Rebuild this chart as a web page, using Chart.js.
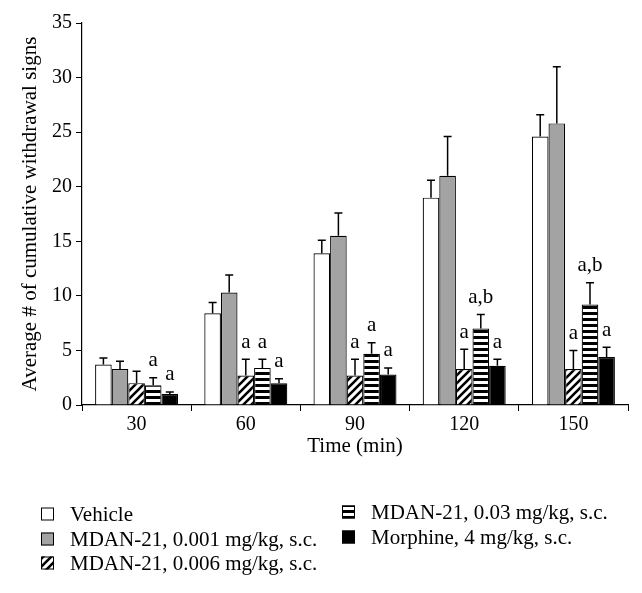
<!DOCTYPE html>
<html lang="en">
<head>
<meta charset="UTF-8">
<title>Cumulative withdrawal signs</title>
<style>
    body { margin: 0; padding: 0; background: #fff; }
    #wrap { width: 642px; height: 593px; }
</style>
</head>
<body>
<div id="wrap"><canvas id="chart" width="642" height="593"></canvas></div>
<script src="https://cdn.jsdelivr.net/npm/chart.js"></script>
<script>
// data
const times = ['30', '60', '90', '120', '150'];
const seriesNames = [
    'Vehicle',
    'MDAN-21, 0.001 mg/kg, s.c.',
    'MDAN-21, 0.006 mg/kg, s.c.',
    'MDAN-21, 0.03 mg/kg, s.c.',
    'Morphine, 4 mg/kg, s.c.'
];
const vehicle   = [3.7, 8.4, 13.9, 19.0, 24.6];
const mdan001   = [3.3, 10.3, 15.5, 21.0, 25.8];
const mdan006   = [2.0, 2.7, 2.7, 3.3, 3.3];
const mdan003   = [1.8, 3.4, 4.7, 7.0, 9.2];
const morphine  = [1.0, 2.0, 2.8, 3.6, 4.4];
const errVehicle  = [0.6, 1.0, 1.2, 1.6, 2.0];
const errMdan001  = [0.7, 1.6, 2.1, 3.6, 5.2];
const errMdan006  = [1.1, 1.5, 1.5, 1.8, 1.7];
const errMdan003  = [0.7, 0.8, 1.0, 1.3, 2.0];
const errMorphine = [0.2, 0.4, 0.6, 0.6, 0.9];
const sigVehicle  = ['', '', '', '', ''];
const sigMdan001  = ['', '', '', '', ''];
const sigMdan006  = ['', 'a', 'a', 'a', 'a'];
const sigMdan003  = ['a', 'a', 'a', 'a,b', 'a,b'];
const sigMorphine = ['a', 'a', 'a', 'a', 'a'];
const yTicks = [0, 5, 10, 15, 20, 25, 30, 35];

const serif = "'Liberation Serif', 'DejaVu Serif', serif";

function diagPattern() {
    const c = document.createElement('canvas');
    c.width = 8; c.height = 8;
    const g = c.getContext('2d');
    g.fillStyle = '#fff';
    g.fillRect(0, 0, 8, 8);
    g.strokeStyle = '#000';
    g.lineWidth = 2.6;
    g.beginPath();
    g.moveTo(-2, 10); g.lineTo(10, -2);
    g.moveTo(-2, 2); g.lineTo(2, -2);
    g.moveTo(6, 10); g.lineTo(10, 6);
    g.stroke();
    return g.createPattern(c, 'repeat');
}

function stripePattern() {
    const c = document.createElement('canvas');
    c.width = 4; c.height = 6;
    const g = c.getContext('2d');
    g.fillStyle = '#fff';
    g.fillRect(0, 0, 4, 6);
    g.fillStyle = '#000';
    g.fillRect(0, 0, 4, 3);
    return g.createPattern(c, 'repeat');
}

const fills = ['#ffffff', '#a3a3a3', diagPattern(), stripePattern(), '#000000'];
const values = [vehicle, mdan001, mdan006, mdan003, morphine];
const errors = [errVehicle, errMdan001, errMdan006, errMdan003, errMorphine];
const sigs = [sigVehicle, sigMdan001, sigMdan006, sigMdan003, sigMorphine];

const errorBars = {
    id: 'errorBars',
    afterDatasetsDraw(chart) {
        const ctx = chart.ctx;
        const y = chart.scales.y;
        ctx.save();
        ctx.strokeStyle = '#000';
        ctx.lineWidth = 1.5;
        ctx.fillStyle = '#000';
        ctx.font = '21px ' + serif;
        ctx.textAlign = 'center';
        ctx.textBaseline = 'middle';
        chart.data.datasets.forEach((ds, i) => {
            chart.getDatasetMeta(i).data.forEach((bar, j) => {
                const top = y.getPixelForValue(ds.data[j] + ds.errors[j]);
                ctx.beginPath();
                ctx.moveTo(bar.x, bar.y);
                ctx.lineTo(bar.x, top);
                ctx.moveTo(bar.x - 4, top);
                ctx.lineTo(bar.x + 4, top);
                ctx.stroke();
                if (ds.sig[j]) ctx.fillText(ds.sig[j], bar.x, top - 17);
            });
        });
        ctx.restore();
    }
};

const legendBlock = {
    id: 'legendBlock',
    afterDraw(chart) {
        const ctx = chart.ctx;
        const spots = [[41, 514], [41, 539], [41, 563], [342, 512], [342, 537]];
        ctx.save();
        ctx.font = '21px ' + serif;
        ctx.textBaseline = 'middle';
        ctx.textAlign = 'left';
        spots.forEach((p, i) => {
            ctx.fillStyle = fills[i];
            ctx.fillRect(p[0], p[1] - 6.5, 13, 13);
            ctx.strokeStyle = '#000';
            ctx.lineWidth = 1;
            ctx.strokeRect(p[0] + 0.5, p[1] - 6, 12, 12);
            ctx.fillStyle = '#000';
            ctx.fillText(seriesNames[i], p[0] + 29, p[1] + 1);
        });
        ctx.restore();
    }
};

new Chart(document.getElementById('chart'), {
    type: 'bar',
    data: {
        labels: times,
        datasets: values.map((v, i) => ({
            label: seriesNames[i],
            data: v,
            errors: errors[i],
            sig: sigs[i],
            backgroundColor: fills[i],
            borderColor: '#000',
            borderWidth: 1.2,
            categoryPercentage: 0.76,
            barPercentage: 1.0
        }))
    },
    options: {
        responsive: false,
        animation: false,
        layout: { padding: { top: 23, right: 14, left: 0, bottom: 132 } },
        plugins: {
            legend: { display: false },
            tooltip: { enabled: false }
        },
        scales: {
            x: {
                afterFit(scale) { scale.height = 56; },
                grid: { display: true, drawOnChartArea: false, drawTicks: true, tickLength: 6, color: '#000', offset: true },
                border: { color: '#000', width: 1.2 },
                ticks: { color: '#000', font: { family: serif, size: 20 }, padding: 2 },
                title: { display: true, text: 'Time (min)', color: '#000', font: { family: serif, size: 21 }, padding: { top: 0, bottom: 2 } }
            },
            y: {
                min: 0,
                max: 35,
                afterFit(scale) { scale.width = 82; },
                afterBuildTicks(axis) { axis.ticks = yTicks.map(v => ({ value: v })); },
                grid: { display: true, drawOnChartArea: false, drawTicks: true, tickLength: 6, color: '#000' },
                border: { color: '#000', width: 1.2 },
                ticks: { color: '#000', font: { family: serif, size: 20 }, padding: 4 },
                title: { display: true, text: 'Average # of cumulative withdrawal signs', color: '#000', font: { family: serif, size: 21 }, padding: { top: 18, bottom: 4 } }
            }
        }
    },
    plugins: [errorBars, legendBlock]
});
</script>
</body>
</html>
